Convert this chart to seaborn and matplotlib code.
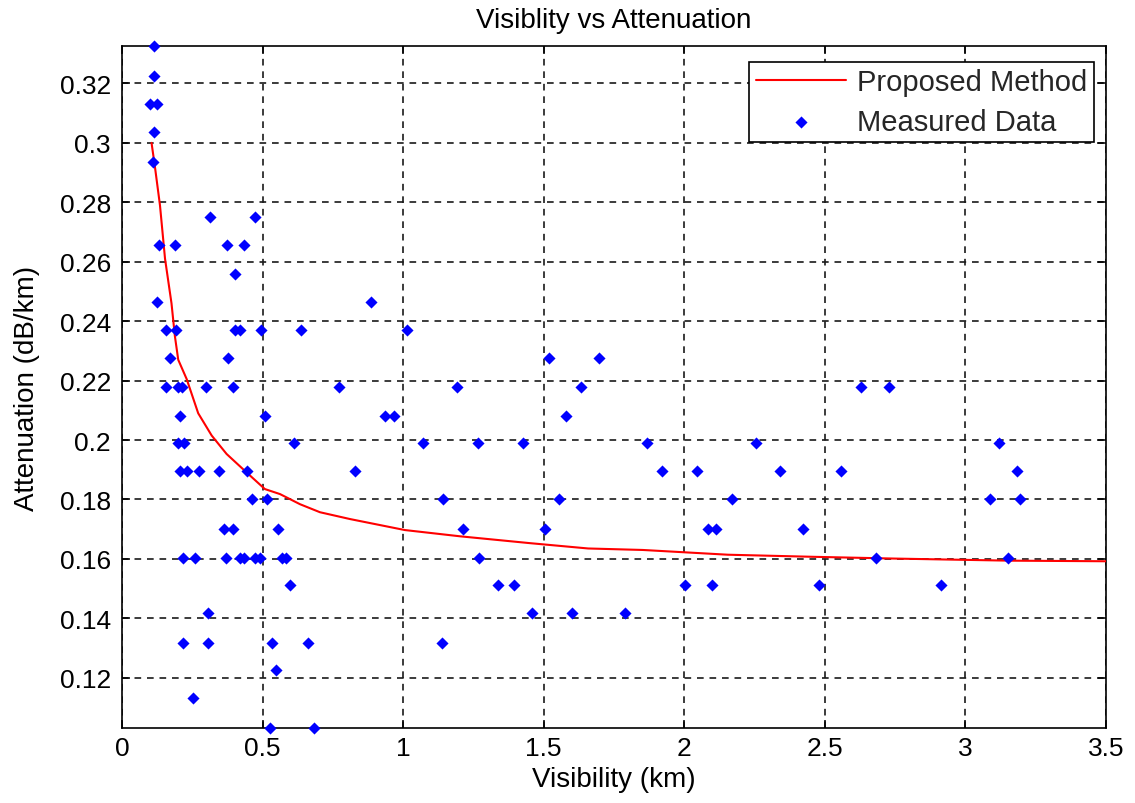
import numpy as np
import pandas as pd
import matplotlib
matplotlib.use("Agg")
import matplotlib.pyplot as plt
from matplotlib.ticker import FuncFormatter, MultipleLocator
import seaborn as sns

# Measured visibility (km) and attenuation (dB/km) pairs
visibility = [
    0.113, 0.113, 0.099, 0.125, 0.113, 0.111,
    0.313, 0.473,
    0.132, 0.188, 0.372, 0.435,
    0.403,
    0.123, 0.885,
    0.155, 0.191, 0.403, 0.419, 0.495, 0.638, 1.012,
    0.170, 0.378, 1.517, 1.697,
    0.155, 0.200, 0.213, 0.298, 0.395, 0.772, 1.192, 1.632, 2.630, 2.727,
    0.206, 0.508, 0.935, 0.968, 1.579,
    0.198, 0.220, 0.611, 1.071, 1.265, 1.425, 1.866, 2.254, 3.120,
    0.206, 0.232, 0.275, 0.346, 0.443, 0.828, 1.922, 2.046, 2.340, 2.557, 3.185,
    0.461, 0.514, 1.142, 1.554, 2.171, 3.086, 3.193,
    0.363, 0.395, 0.556, 1.213, 1.504, 2.085, 2.111, 2.423,
    0.218, 0.259, 0.370, 0.419, 0.435, 0.473, 0.490, 0.569, 0.583, 1.270, 2.680, 3.152,
    0.597, 1.336, 1.394, 2.002, 2.099, 2.478, 2.912,
    0.307, 1.457, 1.601, 1.788,
    0.218, 0.307, 0.532, 0.662, 1.137,
    0.547,
    0.251,
    0.526, 0.684,
]
attenuation = (
    [0.3325, 0.3224, 0.3130, 0.3130, 0.3037, 0.2936]
    + [0.2749] * 2
    + [0.2656] * 4
    + [0.2557]
    + [0.2463] * 2
    + [0.2369] * 7
    + [0.2275] * 4
    + [0.2177] * 10
    + [0.2082] * 5
    + [0.1990] * 9
    + [0.1895] * 11
    + [0.1801] * 7
    + [0.1700] * 8
    + [0.1604] * 12
    + [0.1512] * 7
    + [0.1419] * 4
    + [0.1318] * 5
    + [0.1225]
    + [0.1131]
    + [0.1032] * 2
)

# Model curve of the proposed method
model_visibility = [0.105, 0.117, 0.135, 0.153, 0.176, 0.188, 0.200, 0.230,
                    0.271, 0.319, 0.372, 0.443, 0.508, 0.562, 0.633, 0.704,
                    0.811, 1.006, 1.202, 1.450, 1.658, 1.852, 2.155, 2.457,
                    2.749, 3.157, 3.500]
model_attenuation = [0.300, 0.292, 0.279, 0.261, 0.246, 0.235, 0.227, 0.2205,
                     0.209, 0.2015, 0.1953, 0.1891, 0.1835, 0.1818, 0.1784,
                     0.1757, 0.1734, 0.1697, 0.1676, 0.1653, 0.1635, 0.1630,
                     0.1614, 0.1607, 0.1601, 0.1594, 0.1592]

measured = pd.DataFrame({"Visibility": visibility, "Attenuation": attenuation})
model = pd.DataFrame({"Visibility": model_visibility,
                      "Attenuation": model_attenuation})

sns.set_theme(style="white")
plt.rcParams["font.family"] = ["Liberation Sans", "DejaVu Sans"]

fig = plt.figure(figsize=(11.35, 8.04), dpi=100)
ax = fig.add_axes([0.1075, 0.0937, 0.8670, 0.8475])

sns.lineplot(data=model, x="Visibility", y="Attenuation", ax=ax,
             color="#ff0000", linewidth=1.5, sort=False, estimator=None,
             label="Proposed Method", zorder=3)
sns.scatterplot(data=measured, x="Visibility", y="Attenuation", ax=ax,
                color="#0000ff", marker="D", s=38, linewidth=0,
                label="Measured Data", zorder=4, clip_on=False)

ax.set_xlim(0, 3.5)
ax.set_ylim(0.1032, 0.3325)
ax.xaxis.set_major_locator(MultipleLocator(0.5))
ax.yaxis.set_major_locator(MultipleLocator(0.02))
fmt = FuncFormatter(lambda v, p: f"{v:g}")
ax.xaxis.set_major_formatter(fmt)
ax.yaxis.set_major_formatter(fmt)

ax.grid(True, color="#1a1a1a", linestyle=(0, (4, 3.5)), linewidth=1.2)
ax.set_axisbelow(True)
for sp in ax.spines.values():
    sp.set_color("black")
    sp.set_linewidth(1.2)
ax.tick_params(direction="in", length=6, width=1.1, top=True, right=True,
               bottom=True, left=True, labelsize=19, colors="black")
ax.tick_params(axis="x", pad=6)
ax.tick_params(axis="y", pad=8)

ax.set_title("Visiblity vs Attenuation", fontsize=20, color="black", pad=14)
ax.set_xlabel("Visibility (km)", fontsize=20, color="black", labelpad=4)
ax.set_ylabel("Attenuation (dB/km)", fontsize=20, color="black", labelpad=14)

leg = ax.legend(loc="upper right", bbox_to_anchor=(0.9878, 0.977),
                borderaxespad=0, fontsize=21, frameon=True, fancybox=False,
                framealpha=1, edgecolor="black", handlelength=3.1,
                handletextpad=0.38, labelspacing=0.4, borderpad=0.22)
leg.get_frame().set_linewidth(1.2)

fig.savefig("out.png", dpi=100)
